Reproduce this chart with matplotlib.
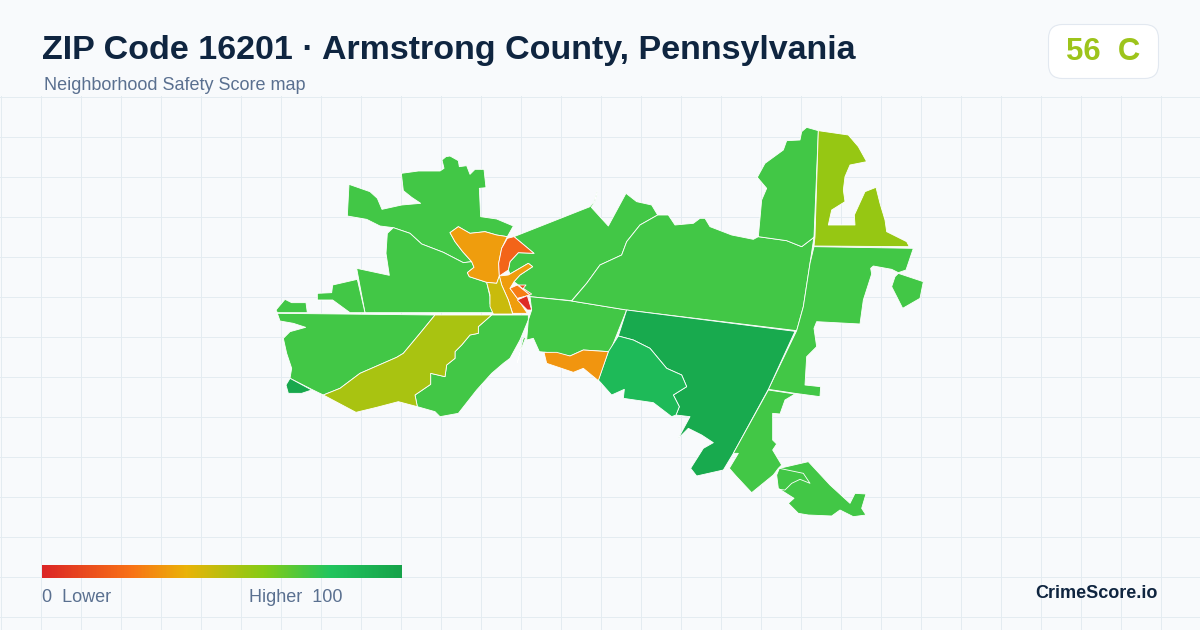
import numpy as np
import matplotlib
matplotlib.use("Agg")
import matplotlib.pyplot as plt
from matplotlib.colors import LinearSegmentedColormap
from matplotlib.patches import FancyBboxPatch, Polygon

plt.rcParams['font.family'] = ['Liberation Sans', 'DejaVu Sans']

# header texts
title_text = "ZIP Code 16201 · Armstrong County, Pennsylvania"
subtitle_text = "Neighborhood Safety Score map"
badge_text = "56  C"
brand_text = "CrimeScore.io"
legend_low = "0  Lower"
legend_high = "Higher  100"

# score scale used by the map and the legend
scale_stops = [0.0, 0.25, 0.40, 0.62, 0.8, 1.0]
scale_colors = ['#dc2626', '#f97316', '#eab308', '#84cc16', '#22c55e', '#16a34a']

# outlines were traced on 3x crops: west crop starts at (270,120), east crop at (590,120)
WEST = (270, 120)
EAST = (590, 120)

nw_green = [(237,193),(300,215),(322,235),(336,268),(395,255),(452,250),(425,232),(400,212),(394,160),(445,153),
            (510,153),(522,145),(516,120),(528,110),(540,108),(565,122),(568,140),(590,137),(600,163),(615,148),(642,148),
            (648,203),(628,205),(632,290),(680,297),(730,318),(712,350),(680,345),(645,335),(600,340),(565,320),
            (540,338),(555,365),(578,395),(605,425),(580,428),(520,397),(455,372),(420,340),(370,323),(330,318),
            (290,298),(232,288)]
w_green = [(370,323),(420,340),(455,372),(520,397),(580,428),(605,425),(612,442),(592,458),(598,470),(650,487),
           (660,530),(660,550),(668,578),(285,578),(260,445),(358,466),(348,400),(352,340)]
w_sliver = [(262,478),(188,495),(185,518),(142,520),(142,540),(188,540),(240,578),(285,578)]
w_tip = [(18,570),(45,538),(65,548),(108,548),(112,578),(22,578)]
sw_green = [(22,580),(495,585),(450,640),(400,700),(380,712),(270,760),(210,805),(160,825),(125,808),(60,775),
            (65,745),(50,700),(40,655),(60,635),(107,622),(70,610),(30,603)]
sw_dark = [(60,775),(125,810),(95,820),(55,820),(48,795)]
olive = [(495,585),(665,585),(625,620),(625,640),(600,645),(575,675),(555,695),(555,715),(530,735),(525,770),
         (482,760),(482,793),(435,825),(442,860),(385,845),(320,862),(258,877),(160,825),(210,805),(270,760),
         (380,712),(400,700),(450,640)]
s_green = [(665,585),(775,585),(775,600),(750,660),(720,715),(700,730),(665,760),(620,810),(565,880),(510,890),
           (495,875),(442,860),(435,825),(482,793),(482,760),(525,770),(530,735),(555,715),(555,695),(575,675),
           (600,645),(625,640),(625,620)]
river_sliver = [(768,650),(752,692),(742,728),(748,700),(760,655)]
amber_main = [(540,338),(565,320),(600,340),(645,335),(680,345),(712,350),(695,385),(686,430),(688,468),(680,490),(650,487),
              (598,470),(592,458),(612,442),(605,425),(578,395),(555,365)]
orange_red = [(732,350),(792,400),(745,398),(720,425),(715,450),(688,468),(686,430),(695,385),(712,355)]
amber_strip = [(688,468),(715,465),(775,430),(788,440),(750,465),(732,485),(720,505),(742,535),(772,580),(728,580),
               (715,540),(695,495)]
yellow_strip = [(650,487),(680,490),(688,468),(695,495),(715,540),(728,582),(670,582),(660,560),(660,525)]
orange_small = [(720,505),(742,495),(780,525),(742,535)]
redorange_small = [(745,495),(768,495),(760,505),(785,522),(780,525)]
red_small = [(742,540),(772,527),(785,570),(772,570)]
ne_green = [(732,350),(960,260),(972,245),(982,213),(976,243),(964,262),(1015,318),(1068,220),(1100,245),(1145,255),
            (1163,285),(1110,315),(1070,365),(1055,405),(990,435),(950,490),(905,542),(780,530),(775,525),(745,495),
            (732,485),(750,465),(788,440),(775,430),(720,462),(715,450),(720,425),(745,398),(792,400)]
sc_green = [(780,530),(905,543),(1070,570),(1020,695),(940,690),(900,708),(860,700),(808,695),(790,655),(770,660),
            (775,600),(785,570)]
orange_patch = [(822,697),(860,697),(900,708),(940,690),(1015,695),(985,782),(940,745),(910,757),(830,730)]

central_green = [(-55,543),(-10,490),(30,435),(95,405),(110,365),(150,315),(203,285),(235,285),(255,315),(310,310),
                 (330,295),(345,295),(360,320),(425,345),(490,358),(505,350),(590,362),(635,380),(668,355),(672,350),
                 (660,430),(640,560),(620,632),(110,570)]
n_green = [(505,350),(515,240),(530,205),(502,172),(525,130),(580,90),(590,62),(630,60),(635,35),(650,22),(685,32),
           (672,350),(668,355),(635,380),(590,362)]
lime = [(685,32),(775,45),(805,80),(830,125),(780,135),(765,170),(760,210),(765,245),(725,270),(715,315),(795,315),
        (793,285),(825,215),(858,202),(870,250),(885,300),(890,335),(950,365),(958,380),(672,378),(675,350)]
e_green = [(672,380),(970,385),(948,450),(925,458),(905,448),(850,438),(842,445),(845,462),(820,540),(810,612),
           (680,605),(672,625),(680,680),(650,710),(645,795),(692,800),(690,830),(615,820),(535,808),(620,632),
           (640,560),(660,430)]
e_pentagon = [(925,460),(1000,485),(990,535),(938,565),(905,500),(915,470)]
dark_green = [(110,570),(615,634),(535,808),(430,1000),(400,1050),(320,1068),(302,1045),(340,985),(370,968),(335,945),
              (295,925),(265,955),(300,890),(258,885),(268,860),(250,825),(290,800),(275,765),(230,745),(180,685),
              (130,660),(85,648)]
mid_green = [(85,648),(130,660),(180,685),(230,745),(275,765),(290,800),(250,825),(268,860),(258,885),(245,890),
             (190,848),(100,835),(103,808),(65,825),(25,780),(55,695)]
se_green = [(535,810),(615,822),(585,840),(570,882),(548,880),(548,960),(560,972),(548,990),(575,1035),(565,1045),
            (550,1065),(485,1118),(440,1070),(418,1045),(445,1000),(430,1000)]
se_tail = [(568,1045),(655,1025),(720,1095),(780,1150),(795,1120),(828,1122),(815,1165),(828,1185),(790,1190),
           (750,1170),(725,1188),(655,1185),(625,1180),(595,1150),(612,1135),(565,1105),(560,1065)]
se_inner = [(568,1045),(640,1060),(660,1090),(630,1078),(605,1090),(585,1110),(565,1108)]

# outlines with their scores, hot ones come last so they sit on top
west_regions = [nw_green, w_green, w_sliver, w_tip, sw_green, s_green, river_sliver, ne_green, sc_green]
west_scores = [74, 74, 74, 74, 74, 74, 74, 74, 74]
east_regions = [central_green, n_green, lime, e_green, e_pentagon, dark_green, mid_green, se_green, se_tail]
east_scores = [74, 74, 58, 74, 74, 96, 86, 74, 74]
west_hot = [sw_dark, olive, amber_main, orange_red, amber_strip, yellow_strip, orange_small, redorange_small,
            red_small, orange_patch]
west_hot_scores = [97, 54, 35, 20, 35, 47, 27, 14, 2, 33]


def to_px(points, origin):
    pts = np.array(points, dtype=float)
    return pts / 3 + np.array(origin)


cmap = LinearSegmentedColormap.from_list('safety', list(zip(scale_stops, scale_colors)))

fig = plt.figure(figsize=(12, 6.3), dpi=100, facecolor='#f8fafc')
ax = fig.add_axes([0, 0, 1, 1])
ax.set_xlim(0, 1200)
ax.set_ylim(630, 0)
ax.axis('off')

# background grid
for gx in range(0, 1200, 40):
    ax.plot([gx + 0.5, gx + 0.5], [96, 630], color='#e4ecf1', lw=0.72, zorder=1)
for gy in range(96, 630, 40):
    ax.plot([0, 1200], [gy + 0.5, gy + 0.5], color='#e4ecf1', lw=0.72, zorder=1)

# map
for outlines, scores, origin in [(west_regions, west_scores, WEST),
                                 (east_regions, east_scores, EAST),
                                 (west_hot, west_hot_scores, WEST)]:
    for outline, score in zip(outlines, scores):
        ax.add_patch(Polygon(to_px(outline, origin), closed=True, facecolor=cmap(score / 100),
                             edgecolor='white', lw=0.6, joinstyle='round', zorder=3))
inner = to_px(se_inner, EAST)
ax.plot(inner[:, 0], inner[:, 1], color='white', lw=0.6, zorder=4)

# header
ax.text(42, 51, title_text, fontsize=24.5, fontweight='bold', color='#0f2540', va='center', ha='left', zorder=5)
ax.text(44, 85.5, subtitle_text, fontsize=12.95, color='#5a7090', va='center', ha='left', zorder=5)

badge = FancyBboxPatch((1048.5, 24.5), 110, 54, boxstyle='round,pad=0,rounding_size=14',
                       facecolor='white', edgecolor='#e2e8f0', lw=0.8, zorder=5)
ax.add_patch(badge)
ax.text(1103, 51.5, badge_text, fontsize=22.4, fontweight='bold', color='#9dc41b', va='center', ha='center', zorder=6)

# legend bar
ramp = np.linspace(0, 1, 360).reshape(1, -1)
ax.imshow(ramp, cmap=cmap, extent=(42, 402, 578, 565), aspect='auto', zorder=5)
ax.set_xlim(0, 1200)
ax.set_ylim(630, 0)
ax.text(42, 597.5, legend_low, fontsize=13, color='#5a7090', va='center', ha='left', zorder=5)
ax.text(249, 597.5, legend_high, fontsize=13, color='#5a7090', va='center', ha='left', zorder=5)
ax.text(1158, 593, brand_text, fontsize=13, fontweight='bold', color='#0f2540', va='center', ha='right', zorder=5)

fig.savefig('out.png', dpi=100, facecolor=fig.get_facecolor())
